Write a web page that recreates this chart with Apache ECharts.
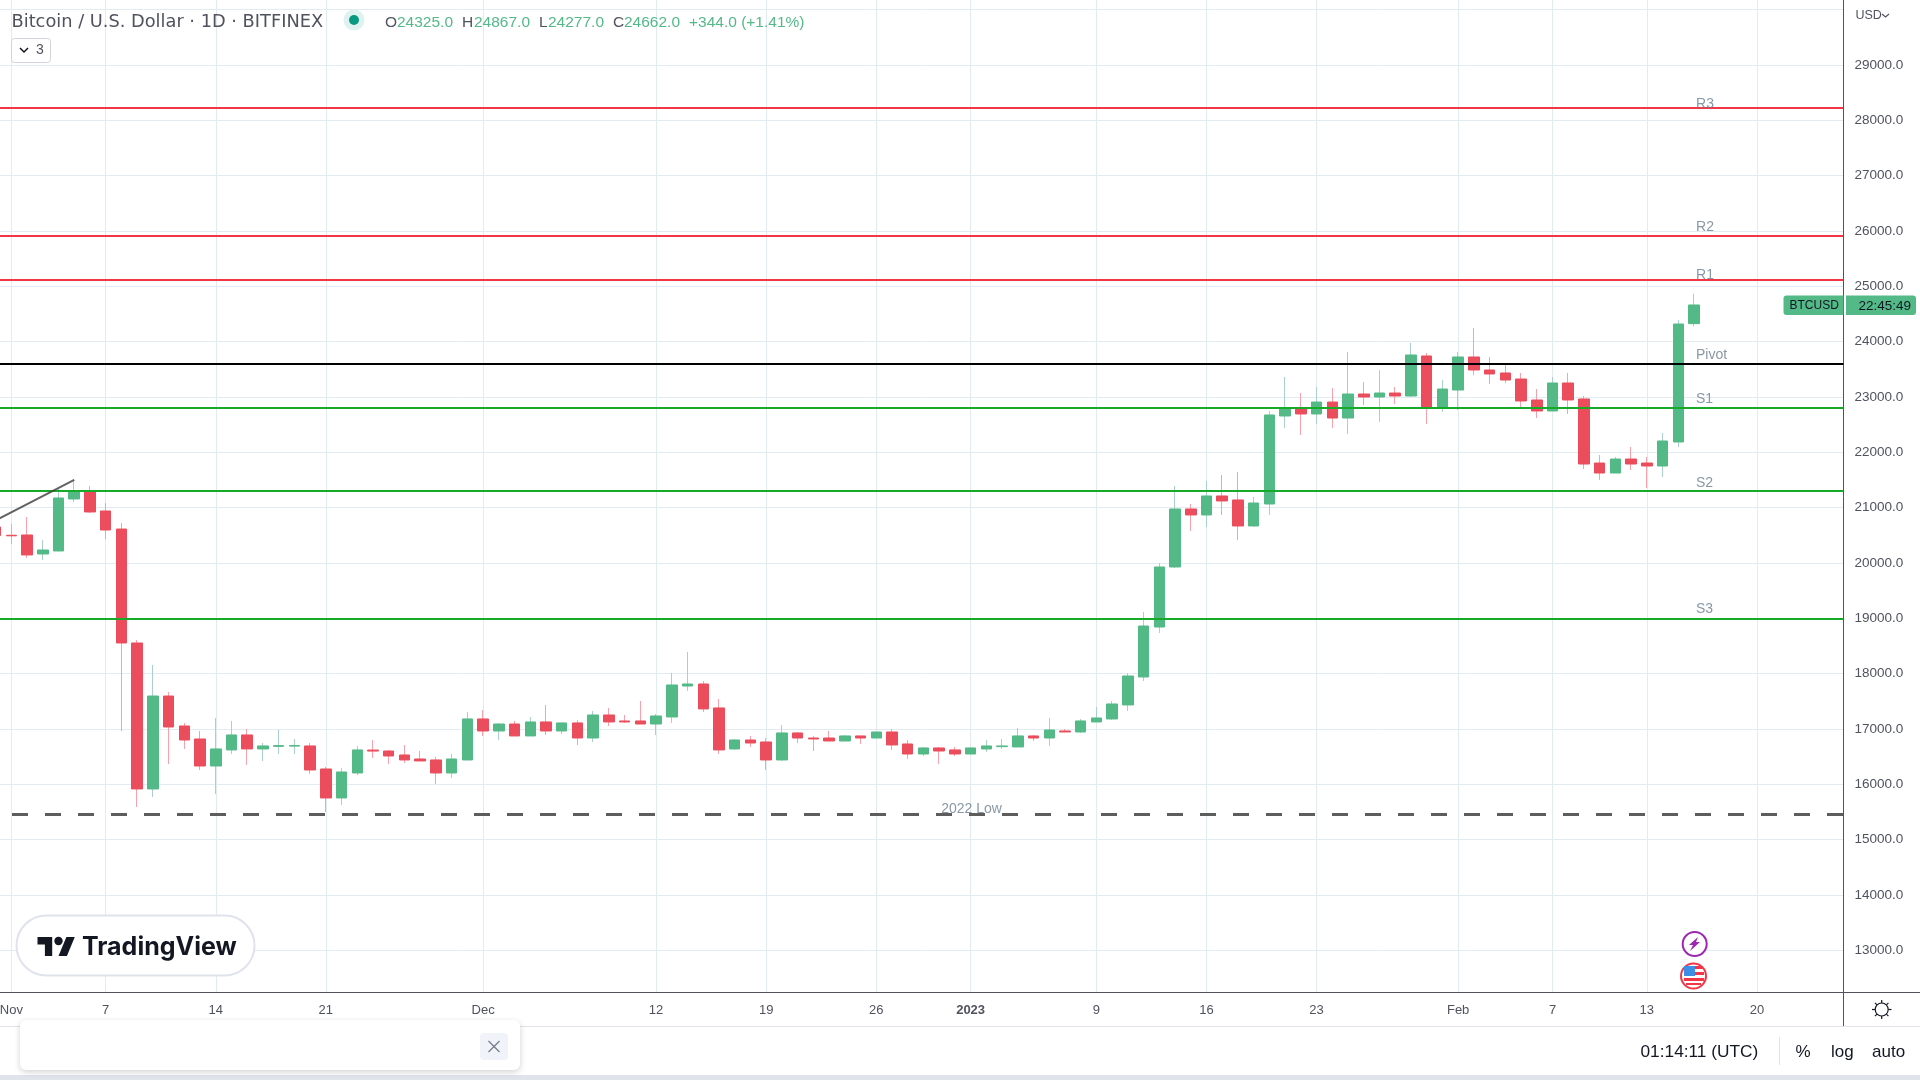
<!DOCTYPE html>
<html>
<head>
<meta charset="utf-8">
<title>BTCUSD</title>
<style>
html, body { margin: 0; padding: 0; background: #fff; }
#main { width: 1920px; height: 1080px; }
</style>
<script src="https://cdn.jsdelivr.net/npm/echarts@6/dist/echarts.min.js"></script>
</head>
<body>
<div id="main"></div>
<script>
var categories = [
  '2022-10-31',
  '2022-11-01','2022-11-02','2022-11-03','2022-11-04','2022-11-05','2022-11-06','2022-11-07','2022-11-08','2022-11-09','2022-11-10',
  '2022-11-11','2022-11-12','2022-11-13','2022-11-14','2022-11-15','2022-11-16','2022-11-17','2022-11-18','2022-11-19','2022-11-20',
  '2022-11-21','2022-11-22','2022-11-23','2022-11-24','2022-11-25','2022-11-26','2022-11-27','2022-11-28','2022-11-29','2022-11-30',
  '2022-12-01','2022-12-02','2022-12-03','2022-12-04','2022-12-05','2022-12-06','2022-12-07','2022-12-08','2022-12-09','2022-12-10',
  '2022-12-11','2022-12-12','2022-12-13','2022-12-14','2022-12-15','2022-12-16','2022-12-17','2022-12-18','2022-12-19','2022-12-20',
  '2022-12-21','2022-12-22','2022-12-23','2022-12-24','2022-12-25','2022-12-26','2022-12-27','2022-12-28','2022-12-29','2022-12-30','2022-12-31',
  '2023-01-01','2023-01-02','2023-01-03','2023-01-04','2023-01-05','2023-01-06','2023-01-07','2023-01-08','2023-01-09','2023-01-10',
  '2023-01-11','2023-01-12','2023-01-13','2023-01-14','2023-01-15','2023-01-16','2023-01-17','2023-01-18','2023-01-19','2023-01-20',
  '2023-01-21','2023-01-22','2023-01-23','2023-01-24','2023-01-25','2023-01-26','2023-01-27','2023-01-28','2023-01-29','2023-01-30','2023-01-31',
  '2023-02-01','2023-02-02','2023-02-03','2023-02-04','2023-02-05','2023-02-06','2023-02-07','2023-02-08','2023-02-09','2023-02-10',
  '2023-02-11','2023-02-12','2023-02-13','2023-02-14','2023-02-15','2023-02-16','2023-02-17','2023-02-18','2023-02-19','2023-02-20',
  '2023-02-21','2023-02-22','2023-02-23','2023-02-24','2023-02-25'
];

// one row per month, Oct 31 first
var opens = [
  20650,
  20500,20505,20162,20216,21156,21288,20939,20613,18553,15915,17595,17053,16818,16330,16620,16891,16638,16685,16690,16692,16276,15752,16204,16618,16601,16529,16457,16439,16204,16439,
  17180,16963,17089,16873,17126,16963,17108,16836,17252,17144,17144,17089,17216,17776,17812,17379,16638,16800,16764,16439,16927,16836,16836,16782,16873,16836,16945,16728,16547,16656,16620,
  16547,16638,16680,16674,16873,16836,16963,16945,17126,17180,17433,17939,18842,19927,20975,20867,21210,21138,20668,21065,22656,22782,22692,22908,22619,23053,22999,23071,23017,23740,22800,
  23125,23722,23487,23433,23324,22945,22746,23252,22963,21806,21625,21878,21806,21752,22186,24325
];
var closes = [
  20493,
  20490,20144,20234,21174,21300,20921,20595,18553,15915,17595,17035,16800,16330,16638,16891,16638,16692,16698,16700,16258,15752,16222,16620,16600,16511,16439,16421,16204,16457,17180,
  16963,17089,16873,17126,16963,17108,16836,17252,17126,17126,17089,17234,17794,17812,17361,16620,16800,16746,16439,16927,16836,16818,16782,16873,16836,16945,16710,16547,16656,16601,16547,
  16656,16692,16692,16873,16836,16981,16945,17144,17198,17451,17957,18860,19927,20975,20867,21210,21120,20668,21083,22674,22800,22692,22908,22619,23053,22999,23071,23017,23758,22800,23143,
  23722,23487,23415,23306,22927,22746,23252,22945,21788,21625,21878,21788,21752,22204,24318,24662
];
var lows = [
  20400,
  20342,20090,20053,20210,21101,20903,20433,16963,15590,15770,16367,16638,16258,15824,16547,16349,16421,16547,16547,16186,15499,15626,16168,16475,16367,16385,16421,16005,16114,16439,
  16873,16800,16873,16873,16891,16909,16710,16764,17053,17108,17089,16891,17108,17686,17306,16547,16620,16674,16258,16421,16746,16601,16782,16782,16728,16830,16620,16457,16511,16367,16511,
  16545,16583,16638,16674,16782,16692,16945,16927,17126,17162,17324,17867,18734,19909,20577,20650,20867,20415,20660,20866,22439,22312,22511,22439,22330,22854,22547,22872,22999,22511,22728,
  22764,23396,23234,23252,22818,22619,22746,22692,21698,21499,21625,21680,21354,21553,22095,24277
];
var highs = [
  20700,
  20704,20830,20415,21348,21487,21391,21083,20722,18607,18156,17668,17107,16963,17198,17144,17000,16746,16981,16818,16746,16312,16294,16692,16800,16620,16710,16602,16493,16547,17306,
  17342,17107,17144,17216,17433,17108,17162,17324,17379,17252,17505,17270,18011,18391,17867,17541,16818,16873,16836,17071,16945,16873,16963,16891,16873,16950,16999,16800,16674,16674,16674,
  16660,16800,16818,17017,16891,17198,16999,17180,17397,17505,18011,19114,19999,21391,21065,21481,21589,21644,21192,22746,23360,23071,23180,23162,23812,23270,23487,23180,23975,23794,23306,
  23812,24246,23722,23577,23433,23143,23360,23433,23017,21951,21915,22095,21915,22348,24390,24867
];

// pivot levels drawn across the chart
var levelNames = ['R3', 'R2', 'R1', 'Pivot', 'S1', 'S2', 'S3'];
var levelValues = [28222, 25914, 25114, 23596, 22800, 21305, 18987];
var lowLevel = 15457;

// where the level captions sit
var captionDates = ['2023-02-16', '2023-02-16', '2023-02-16', '2023-02-16', '2023-02-16', '2023-02-16', '2023-02-16', '2022-12-30'];
var captionTexts = ['R3', 'R2', 'R1', 'Pivot', 'S1', 'S2', 'S3', '2022 Low'];
var captionValues = [28293, 26072, 25204, 23758, 22963, 21445, 19167, 15551];

var trendDates = ['2022-10-31', '2022-11-05'];
var trendValues = [20771, 21500];

var xTickDates = ['2022-11-01','2022-11-07','2022-11-14','2022-11-21','2022-12-01','2022-12-12','2022-12-19','2022-12-26','2023-01-01','2023-01-09','2023-01-16','2023-01-23','2023-02-01','2023-02-07','2023-02-13','2023-02-20'];
var xTickTexts = ['Nov','7','14','21','Dec','12','19','26','2023','9','16','23','Feb','7','13','20'];
var yTickLabels = [13000,14000,15000,16000,17000,18000,19000,20000,21000,22000,23000,24000,25000,26000,27000,28000,29000];
var yGridLines = yTickLabels.concat([30000]);

var UP = '#53b987', DOWN = '#eb4d5c', UP_WICK = '#a9d0d0', DOWN_WICK = '#f7a1ad';
var GRID = '#e1ecf2', AXIS = '#50535e', TEXT = '#50535e', CAPTION = '#6a7d90';
var FONT = '"Liberation Sans", sans-serif';

var tickIndex = {};
xTickDates.forEach(function (d, i) { tickIndex[d] = xTickTexts[i]; });

var bodyData = [], wickData = [];
opens.forEach(function (o, i) {
  var c = closes[i];
  var w = c >= o ? UP_WICK : DOWN_WICK;
  bodyData.push({
    value: [o, c, Math.min(o, c), Math.max(o, c)]
  });
  wickData.push({
    value: [o, c, lows[i], highs[i]],
    itemStyle: { color: w, color0: w, borderColor: w, borderColor0: w }
  });
});

var levelLines = levelNames.map(function (n, i) {
  var col = n === 'Pivot' ? '#000000' : (n.charAt(0) === 'R' ? '#f23645' : '#17a928');
  return { yAxis: levelValues[i], lineStyle: { color: col, width: 2, type: 'solid' } };
});
levelLines.push({ yAxis: lowLevel, lineStyle: { color: '#5d5d5d', width: 3, type: [16, 17], dashOffset: 8.73 } });

function txt(x, y, s, fill, size, extra) {
  var st = { x: x, y: y, text: s, fill: fill, fontSize: size, fontFamily: FONT, verticalAlign: 'middle' };
  for (var k in extra) st[k] = extra[k];
  return { type: 'text', z: 100, silent: true, style: st };
}
function box(x, y, w, h, fill, r, stroke, extra) {
  var o = { type: 'rect', z: 99, silent: true, shape: { x: x, y: y, width: w, height: h, r: r || 0 }, style: { fill: fill, stroke: stroke || null, lineWidth: stroke ? 1 : 0 } };
  for (var k in extra) o.style[k] = extra[k];
  return o;
}
function seg(x1, y1, x2, y2, col, w) {
  return { type: 'line', z: 99, silent: true, shape: { x1: x1, y1: y1, x2: x2, y2: y2 }, style: { stroke: col, lineWidth: w || 1 } };
}
function poly(pts, col, w) {
  return { type: 'polyline', z: 100, silent: true, shape: { points: pts }, style: { stroke: col, lineWidth: w || 1, fill: null } };
}
function solid(pts, fill) {
  return { type: 'polygon', z: 100, silent: true, shape: { points: pts }, style: { fill: fill } };
}

var chrome = [
  // header
  txt(11.5, 22, 'Bitcoin / U.S. Dollar \u00b7 1D \u00b7 BITFINEX', TEXT, 17.8, { fontFamily: '"DejaVu Sans", sans-serif' }),
  { type: 'circle', z: 99, silent: true, shape: { cx: 354, cy: 20, r: 10.5 }, style: { fill: '#e0f2ef' } },
  { type: 'circle', z: 100, silent: true, shape: { cx: 354, cy: 20, r: 5 }, style: { fill: '#089981' } },
  txt(385, 23, 'O', TEXT, 15.5), txt(397, 23, '24325.0', UP, 15.5),
  txt(462, 23, 'H', TEXT, 15.5), txt(474, 23, '24867.0', UP, 15.5),
  txt(539, 23, 'L', TEXT, 15.5), txt(548, 23, '24277.0', UP, 15.5),
  txt(613, 23, 'C', TEXT, 15.5), txt(624, 23, '24662.0', UP, 15.5),
  txt(689, 23, '+344.0 (+1.41%)', UP, 15.5),
  box(11.5, 38.5, 39, 24, '#fff', 3, '#d1d4dc'),
  poly([[20, 48], [24, 52], [28, 48]], '#131722', 1.5),
  txt(36, 50, '3', TEXT, 14),
  // price axis
  txt(1855.5, 16, 'USD', TEXT, 12.5),
  poly([[1882, 14], [1885.5, 17], [1889, 14]], TEXT, 1.2),
  // last price tag
  box(1783.5, 295.5, 60, 19.5, UP, [3, 0, 0, 3]),
  box(1846, 295.5, 70, 19.5, UP, [0, 3, 3, 0]),
  txt(1789.5, 306, 'BTCUSD', '#131722', 12),
  txt(1858.5, 306, '22:45:49', '#131722', 13.5),
  // logo
  box(16.5, 915.5, 238, 60, '#fff', 30, '#e0e3eb', { lineWidth: 2 }),
  solid([[37.5, 937], [52.2, 937], [52.2, 955.9], [44.9, 955.9], [44.9, 944.4], [37.5, 944.4]], '#131722'),
  solid([[66.4, 937], [74.8, 937], [66.9, 955.9], [58.5, 955.9]], '#131722'),
  { type: 'circle', z: 100, silent: true, shape: { cx: 58.5, cy: 941, r: 4.2 }, style: { fill: '#131722' } },
  txt(82, 947, 'TradingView', '#131722', 25, { fontFamily: 'Inter, sans-serif', fontWeight: 700 }),
  // event badges
  { type: 'circle', z: 99, silent: true, shape: { cx: 1694.7, cy: 944, r: 12 }, style: { fill: '#fff', stroke: '#9c27b0', lineWidth: 2 } },
  solid([[1698, 937], [1689, 945], [1693, 945], [1690, 951], [1700, 942], [1696, 942]], '#9c27b0'),
  { type: 'circle', z: 99, silent: true, shape: { cx: 1693.5, cy: 976, r: 12.5 }, style: { fill: '#fff', stroke: '#f23645', lineWidth: 2 } },
  box(1684, 966, 19, 3, '#f23645'),
  box(1694, 972, 10, 3, '#f23645'),
  box(1684, 978, 20, 3, '#f23645'),
  box(1686, 983, 15, 2, '#f23645'),
  box(1684, 966, 11, 10, '#3d8fe6'),
  // chart frame extensions
  seg(0, 992.5, 1920, 992.5, AXIS),
  seg(1843.5, 992, 1843.5, 1026, AXIS),
  seg(0, 1026.5, 1920, 1026.5, '#e0e3eb'),
  // gear
  { type: 'circle', z: 100, silent: true, shape: { cx: 1881.7, cy: 1009.5, r: 6.5 }, style: { fill: null, stroke: '#131722', lineWidth: 1.2 } },
  seg(1881.7, 1000, 1881.7, 1003, '#131722', 1.2), seg(1881.7, 1016, 1881.7, 1019, '#131722', 1.2),
  seg(1872, 1009.5, 1875, 1009.5, '#131722', 1.2), seg(1888.5, 1009.5, 1891.5, 1009.5, '#131722', 1.2),
  seg(1875, 1002.8, 1877, 1004.8, '#131722', 1.2), seg(1886.4, 1014.2, 1888.4, 1016.2, '#131722', 1.2),
  seg(1875, 1016.2, 1877, 1014.2, '#131722', 1.2), seg(1886.4, 1004.8, 1888.4, 1002.8, '#131722', 1.2),
  // bottom bar
  box(0, 1075, 1920, 5, '#e0e3eb'),
  box(20, 1020, 500, 50, '#fff', 6, null, { shadowBlur: 6, shadowColor: 'rgba(0,0,0,0.18)', shadowOffsetY: 2 }),
  box(480, 1033, 28, 27, '#f0f3fa', 4),
  seg(488.5, 1041, 499.5, 1052, '#787b86', 1.2), seg(499.5, 1041, 488.5, 1052, '#787b86', 1.2),
  txt(1640.5, 1052, '01:14:11 (UTC)', '#131722', 17.3),
  seg(1779.5, 1037, 1779.5, 1065, '#e0e3eb'),
  txt(1795.5, 1052, '%', '#131722', 17),
  txt(1831, 1052, 'log', '#131722', 17),
  txt(1872, 1052, 'auto', '#131722', 17)
];

var chart = echarts.init(document.getElementById('main'), null, { renderer: 'canvas' });
chart.setOption({
  animation: false,
  backgroundColor: '#ffffff',
  // first category sits half off the left edge, as in the screenshot
  grid: { left: -12.27, top: 0, width: 1855.7, height: 992.3, containLabel: false, outerBoundsMode: 'none' },
  tooltip: { show: false },
  xAxis: {
    type: 'category',
    data: categories,
    boundaryGap: true,
    axisLine: { show: false },
    axisTick: { show: false },
    axisLabel: {
      interval: function (i, v) { return tickIndex[v] !== undefined; },
      formatter: function (v) {
        var t = tickIndex[v];
        return t === '2023' ? '{b|2023}' : t;
      },
      color: TEXT, fontSize: 13, fontFamily: FONT, margin: 12,
      rich: { b: { fontWeight: 'bold', fontSize: 13, fontFamily: FONT, color: TEXT } }
    },
    splitLine: {
      show: true,
      alignWithLabel: true,
      interval: function (i, v) { return tickIndex[v] !== undefined; },
      lineStyle: { color: GRID, width: 1 }
    }
  },
  yAxis: {
    type: 'value',
    position: 'right',
    min: 12240,
    max: 30174,
    axisLine: { show: true, onZero: false, lineStyle: { color: AXIS, width: 1 } },
    axisTick: { show: false, customValues: yGridLines },
    axisLabel: {
      customValues: yTickLabels,
      formatter: function (v) { return v.toFixed(1); },
      color: TEXT, fontSize: 13.5, fontFamily: FONT, margin: 11
    },
    splitLine: { show: true, lineStyle: { color: GRID, width: 1 } }
  },
  series: [
    {
      name: 'wicks',
      type: 'candlestick',
      data: wickData,
      barWidth: 1,
      z: 2,
      itemStyle: { borderWidth: 1 }
    },
    {
      name: 'BTCUSD',
      type: 'candlestick',
      data: bodyData,
      barWidth: 11,
      z: 3,
      itemStyle: { color: UP, color0: DOWN, borderColor: UP, borderColor0: DOWN, borderWidth: 1 }
    },
    {
      name: 'levels',
      type: 'line',
      data: [],
      z: 5,
      markLine: {
        silent: true,
        symbol: 'none',
        animation: false,
        label: { show: false },
        data: levelLines
      }
    },
    {
      name: 'trend',
      type: 'line',
      data: trendDates.map(function (d, i) { return [d, trendValues[i]]; }),
      symbol: 'none',
      z: 6,
      clip: false,
      lineStyle: { color: 'rgba(70,70,70,0.85)', width: 2 }
    },
    {
      name: 'captions',
      type: 'scatter',
      symbolSize: 0,
      z: 7,
      data: captionDates.map(function (d, i) { return { value: [d, captionValues[i]], name: captionTexts[i] }; }),
      label: {
        show: true,
        position: 'right',
        distance: 2,
        formatter: '{b}',
        color: CAPTION,
        fontSize: 14,
        fontFamily: FONT
      }
    }
  ],
  graphic: { elements: chrome }
});
</script>
</body>
</html>
